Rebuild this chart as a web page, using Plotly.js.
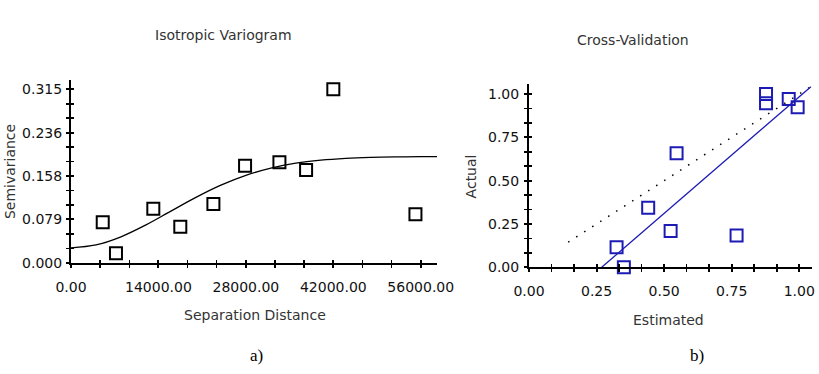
<!DOCTYPE html>
<html>
<head>
<meta charset="utf-8">
<script src="https://cdn.plot.ly/plotly-3.0.1.min.js"></script>
<style>html,body{margin:0;padding:0;background:#fff}#chart{width:819px;height:374px}</style>
</head>
<body>
<div id="chart"></div>
<script>
// ---- Variogram data (left panel) ----
const lagDistance = [5080, 7200, 13180, 17500, 22800, 27870, 33370, 37640, 42000, 55150];
const semivariance = [0.0734, 0.0171, 0.0981, 0.0654, 0.1066, 0.1762, 0.1824, 0.1684, 0.3150, 0.0879];
// model curve
const modelDistance = [0, 4000, 8000, 12000, 16000, 20000, 24000, 28000, 32000, 36000, 40000, 44000, 48000, 52000, 56000, 58600];
const modelSemivariance = [0.0270, 0.0323, 0.0471, 0.0687, 0.0938, 0.1187, 0.1409, 0.1587, 0.1718, 0.1808, 0.1863, 0.1896, 0.1914, 0.1923, 0.1927, 0.1928];
const varXTickVals = [0, 14000, 28000, 42000, 56000];
const varXTickText = ['0.00', '14000.00', '28000.00', '42000.00', '56000.00'];
const varYTickVals = [0, 0.07875, 0.1575, 0.23625, 0.315];
const varYTickText = ['0.000', '0.079', '0.158', '0.236', '0.315'];

// ---- Cross-validation data (right panel) ----
const estimated = [0.324, 0.351, 0.441, 0.524, 0.546, 0.768, 0.877, 0.877, 0.961, 0.994];
const actual = [0.115, 0.000, 0.344, 0.210, 0.658, 0.183, 1.000, 0.946, 0.971, 0.923];
const regressionX = [0.269, 1.043];
const regressionY = [0.000, 1.042];
const identityX = [0.145, 1.043];
const identityY = [0.145, 1.043];
const cvTickVals = [0, 0.25, 0.5, 0.75, 1.0];
const cvTickText = ['0.00', '0.25', '0.50', '0.75', '1.00'];

const BLUE = '#1c1cb4';
const tickFont = {family: 'DejaVu Sans', size: 14, color: '#111'};
const titleFont = {family: 'DejaVu Sans', size: 14, color: '#333'};

const hidden = {mode: 'markers', marker: {opacity: 0, size: 1}, hoverinfo: 'skip'};
const traces = [
  {x: modelDistance, y: modelSemivariance, xaxis: 'x', yaxis: 'y', mode: 'lines', line: {color: '#000', width: 1.3, shape: 'spline'}, hoverinfo: 'skip'},
  {x: lagDistance, y: semivariance, xaxis: 'x', yaxis: 'y', mode: 'markers', cliponaxis: false,
   marker: {symbol: 'square-open', size: 12, color: '#000', line: {width: 2, color: '#000'}}},
  {x: identityX, y: identityY, xaxis: 'x2', yaxis: 'y2', mode: 'lines', line: {color: '#000', width: 1.5, dash: '1.5px,8px'}, hoverinfo: 'skip'},
  {x: regressionX, y: regressionY, xaxis: 'x2', yaxis: 'y2', mode: 'lines', line: {color: BLUE, width: 1.3}, hoverinfo: 'skip', cliponaxis: false},
  {x: estimated, y: actual, xaxis: 'x2', yaxis: 'y2', mode: 'markers', cliponaxis: false,
   marker: {symbol: 'square-open', size: 12, color: BLUE, line: {width: 2, color: BLUE}}},
  // invisible helper traces so the inside-tick overlay axes are drawn
  Object.assign({x: [lagDistance[0]], y: [semivariance[0]], xaxis: 'x3', yaxis: 'y'}, hidden),
  Object.assign({x: [lagDistance[0]], y: [semivariance[0]], xaxis: 'x', yaxis: 'y3'}, hidden),
  Object.assign({x: [estimated[0]], y: [actual[0]], xaxis: 'x4', yaxis: 'y2'}, hidden),
  Object.assign({x: [estimated[0]], y: [actual[0]], xaxis: 'x2', yaxis: 'y4'}, hidden)
];

const baseAxis = {showgrid: false, zeroline: false, showline: true, linecolor: '#000', linewidth: 2,
  ticks: 'outside', ticklen: 3, tickwidth: 2, tickcolor: '#000', tickfont: tickFont, tickmode: 'array', fixedrange: true};
const overlayAxis = {showgrid: false, zeroline: false, showline: false, showticklabels: false,
  ticks: 'inside', ticklen: 3, tickwidth: 2, tickcolor: '#000', tickmode: 'array', fixedrange: true};

const leftX = [0, 58600], leftY = [0, 0.332];
const rightX = [0, 1.046], rightY = [0, 1.056];

const layout = {
  width: 819, height: 374,
  margin: {l: 0, r: 0, t: 0, b: 0},
  paper_bgcolor: '#fff', plot_bgcolor: '#fff',
  showlegend: false,
  xaxis: Object.assign({}, baseAxis, {domain: [0.08669, 0.53358], anchor: 'y', range: leftX,
    tickvals: varXTickVals, ticktext: varXTickText, ticklabelstandoff: 7,
    minor: {tickmode: 'linear', tick0: 0, dtick: 14000 / 3, ticks: 'outside', ticklen: 3, tickwidth: 1.5, tickcolor: '#000'}}),
  yaxis: Object.assign({}, baseAxis, {domain: [0.29759, 0.78610], anchor: 'x', range: leftY,
    tickvals: varYTickVals, ticktext: varYTickText, ticklabelstandoff: 1,
    minor: {tickmode: 'linear', tick0: 0, dtick: 0.02625, ticks: 'outside', ticklen: 3, tickwidth: 1.5, tickcolor: '#000'}}),
  xaxis3: Object.assign({}, overlayAxis, {overlaying: 'x', anchor: 'y', range: leftX, tickvals: varXTickVals,
    minor: {tickmode: 'linear', tick0: 0, dtick: 14000 / 3, ticks: 'inside', ticklen: 3, tickwidth: 1.5, tickcolor: '#000'}}),
  yaxis3: Object.assign({}, overlayAxis, {overlaying: 'y', anchor: 'x', side: 'left', range: leftY, tickvals: varYTickVals,
    minor: {tickmode: 'linear', tick0: 0, dtick: 0.02625, ticks: 'inside', ticklen: 3, tickwidth: 1.5, tickcolor: '#000'}}),
  xaxis2: Object.assign({}, baseAxis, {domain: [0.64591, 0.99109], anchor: 'y2', range: rightX,
    tickvals: cvTickVals, ticktext: cvTickText, ticklabelstandoff: 7,
    minor: {tickmode: 'linear', tick0: 0, dtick: 0.25 / 3, ticks: 'outside', ticklen: 3, tickwidth: 1.5, tickcolor: '#000'}}),
  yaxis2: Object.assign({}, baseAxis, {domain: [0.28529, 0.77460], anchor: 'x2', range: rightY,
    tickvals: cvTickVals, ticktext: cvTickText, ticklabelstandoff: 2,
    minor: {tickmode: 'linear', tick0: 0, dtick: 0.25 / 3, ticks: 'outside', ticklen: 3, tickwidth: 1.5, tickcolor: '#000'}}),
  xaxis4: Object.assign({}, overlayAxis, {overlaying: 'x2', anchor: 'y2', range: rightX, tickvals: cvTickVals,
    minor: {tickmode: 'linear', tick0: 0, dtick: 0.25 / 3, ticks: 'inside', ticklen: 3, tickwidth: 1.5, tickcolor: '#000'}}),
  yaxis4: Object.assign({}, overlayAxis, {overlaying: 'y2', anchor: 'x2', side: 'left', range: rightY, tickvals: cvTickVals,
    minor: {tickmode: 'linear', tick0: 0, dtick: 0.25 / 3, ticks: 'inside', ticklen: 3, tickwidth: 1.5, tickcolor: '#000'}}),
  annotations: [
    {text: 'Isotropic Variogram', x: 0.2735, y: 0.9064, xref: 'paper', yref: 'paper', xanchor: 'center', yanchor: 'middle', showarrow: false, font: titleFont},
    {text: 'Cross-Validation', x: 0.7725, y: 0.893, xref: 'paper', yref: 'paper', xanchor: 'center', yanchor: 'middle', showarrow: false, font: titleFont},
    {text: 'Separation Distance', x: 0.3114, y: 0.1578, xref: 'paper', yref: 'paper', xanchor: 'center', yanchor: 'middle', showarrow: false, font: titleFont},
    {text: 'Estimated', x: 0.8168, y: 0.1444, xref: 'paper', yref: 'paper', xanchor: 'center', yanchor: 'middle', showarrow: false, font: titleFont},
    {text: 'Semivariance', x: 0.0115, y: 0.5409, xref: 'paper', yref: 'paper', xanchor: 'center', yanchor: 'middle', textangle: -90, showarrow: false, font: titleFont},
    {text: 'Actual', x: 0.5747, y: 0.5275, xref: 'paper', yref: 'paper', xanchor: 'center', yanchor: 'middle', textangle: -90, showarrow: false, font: titleFont},
    {text: 'a)', x: 0.3126, y: 0.0508, xref: 'paper', yref: 'paper', xanchor: 'center', yanchor: 'middle', showarrow: false, font: {family: 'Liberation Serif', size: 17, color: '#000'}},
    {text: 'b)', x: 0.851, y: 0.0508, xref: 'paper', yref: 'paper', xanchor: 'center', yanchor: 'middle', showarrow: false, font: {family: 'Liberation Serif', size: 17, color: '#000'}}
  ]
};

Plotly.newPlot('chart', traces, layout, {staticPlot: true, displayModeBar: false});
</script>
</body>
</html>
